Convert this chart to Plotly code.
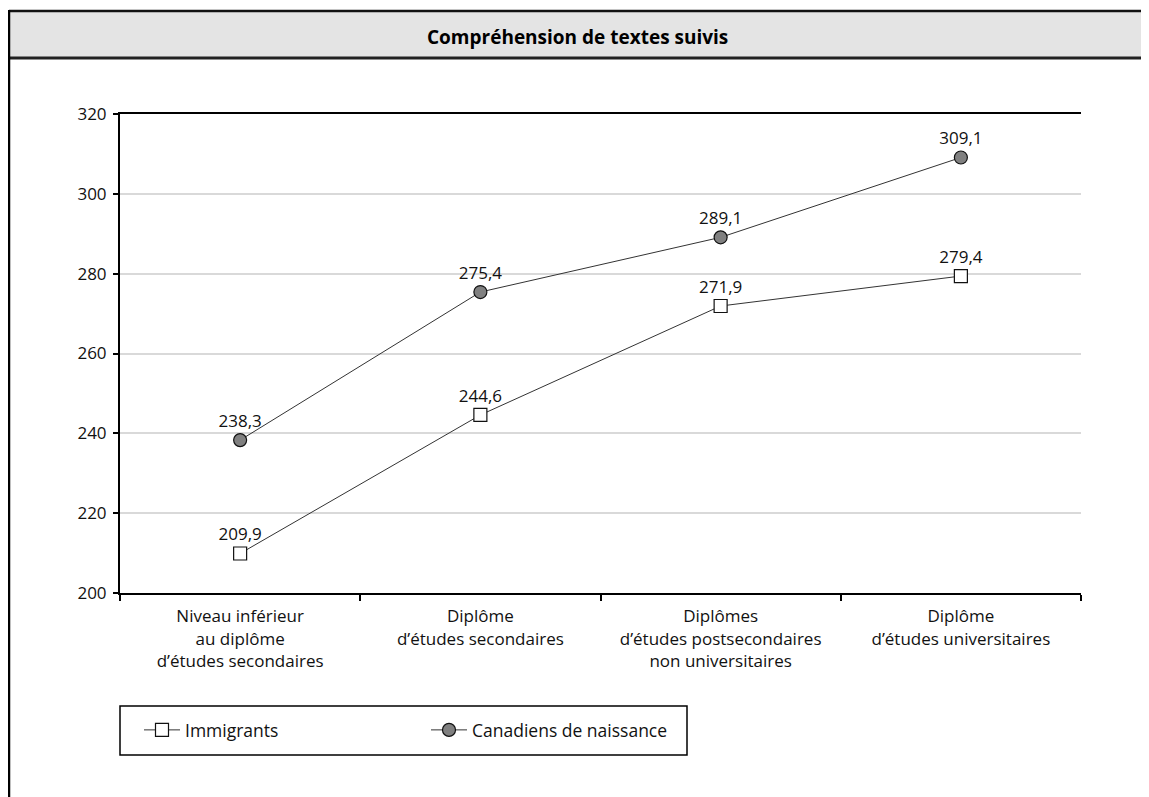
import plotly.graph_objects as go

categories = [
    "Niveau inférieur<br>au diplôme<br>d’études secondaires",
    "Diplôme<br>d’études secondaires",
    "Diplômes<br>d’études postsecondaires<br>non universitaires",
    "Diplôme<br>d’études universitaires",
]
immigrants = [209.9, 244.6, 271.9, 279.4]
canadiens = [238.3, 275.4, 289.1, 309.1]
y_ticks = [200, 220, 240, 260, 280, 300, 320]

FONT = "Open Sans"
OFF = 8  # page body margin
W, H = 1141, 789
L, R, T, B = 112, 68, 106, 204
pw, ph = W - L - R, H - T - B


def px(x_page):
    return (x_page - OFF - L) / pw


def py(y_page):
    return (H - B - (y_page - OFF)) / ph


def fmt(v):
    return f"{v:.1f}".replace(".", ",")


fig = go.Figure()
fig.add_trace(go.Scatter(
    x=categories, y=immigrants, name="Immigrants",
    mode="lines+markers+text",
    line=dict(color="#333333", width=1),
    marker=dict(symbol="square", size=13, color="white", line=dict(color="#111111", width=1.2)),
    text=[fmt(v) for v in immigrants], textposition="top center",
    textfont=dict(family=FONT, size=17, color="#111111"),
))
fig.add_trace(go.Scatter(
    x=categories, y=canadiens, name="Canadiens de naissance",
    mode="lines+markers+text",
    line=dict(color="#333333", width=1),
    marker=dict(symbol="circle", size=13, color="#808080", line=dict(color="#111111", width=1.2)),
    text=[fmt(v) for v in canadiens], textposition="top center",
    textfont=dict(family=FONT, size=17, color="#111111"),
))

RIGHT = OFF + W  # right edge of the figure in page pixels
shapes = [
    # header band
    dict(type="rect", xref="paper", yref="paper", x0=px(9), x1=px(RIGHT), y0=py(58), y1=py(11),
         fillcolor="#e4e4e4", line=dict(color="#e4e4e4", width=0.1), layer="above"),
    dict(type="line", xref="paper", yref="paper", x0=px(9), x1=px(RIGHT), y0=py(11), y1=py(11),
         line=dict(color="#111111", width=2.5)),
    dict(type="line", xref="paper", yref="paper", x0=px(9), x1=px(RIGHT), y0=py(58), y1=py(58),
         line=dict(color="#222222", width=3)),
    # left border
    dict(type="line", xref="paper", yref="paper", x0=px(9), x1=px(9), y0=py(10), y1=py(OFF + H),
         line=dict(color="#000000", width=2.5)),
    # legend box
    dict(type="rect", xref="paper", yref="paper", x0=px(120), x1=px(687), y0=py(755), y1=py(706),
         line=dict(color="#000000", width=1.5), fillcolor="rgba(0,0,0,0)"),
]

fig.update_layout(
    width=W, height=H,
    margin=dict(l=L, r=R, t=T, b=B),
    paper_bgcolor="white", plot_bgcolor="white",
    font=dict(family=FONT, size=17, color="#111111"),
    showlegend=True,
    legend=dict(orientation="h", x=px(139), y=py(730), xanchor="left", yanchor="middle",
                entrywidth=236, entrywidthmode="pixels", itemwidth=36,
                bgcolor="rgba(0,0,0,0)",
                font=dict(family=FONT, size=17.5, color="#111111"), itemclick=False),
    shapes=shapes,
    annotations=[dict(text="<b>Compréhension de textes suivis</b>", xref="paper", yref="paper",
                      x=px(577), y=py(37), xanchor="center", yanchor="middle", showarrow=False,
                      font=dict(family=FONT, size=19, color="#000000"))],
)
fig.update_xaxes(
    type="category", range=[-0.5, 3.5], tickson="boundaries",
    showline=True, linecolor="#000000", linewidth=2, mirror=True,
    ticks="outside", ticklen=6, tickwidth=2, tickcolor="#000000",
    ticklabelstandoff=7,
    showgrid=False, tickfont=dict(family=FONT, size=17, color="#111111"),
)
fig.update_yaxes(
    range=[200, 320], tickvals=y_ticks,
    showline=True, linecolor="#000000", linewidth=2,
    ticks="outside", ticklen=5, tickwidth=1.5, tickcolor="#000000",
    ticklabelstandoff=3,
    showgrid=True, gridcolor="#d9d9d9", gridwidth=1.5, zeroline=False,
    tickfont=dict(family=FONT, size=17, color="#111111"),
)

fig.write_html("out.html", config={"displayModeBar": False})
